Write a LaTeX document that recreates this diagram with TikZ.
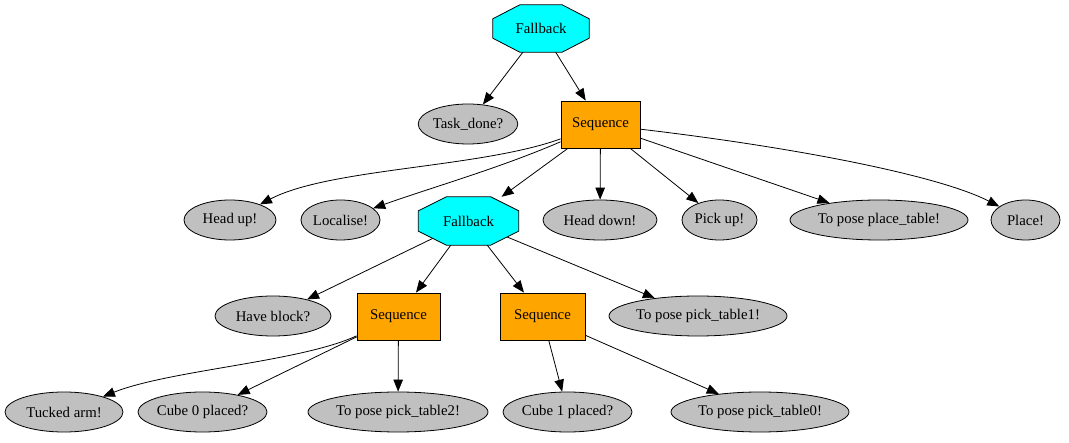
\documentclass[tikz,border=0pt]{standalone}
\usepackage{fontspec}
\setmainfont{Liberation Serif}
\usetikzlibrary{arrows.meta,calc,shapes.geometric}
\definecolor{gvcyan}{RGB}{0,255,255}
\definecolor{gvorange}{RGB}{255,165,0}
\definecolor{gvgray}{RGB}{192,192,192}
\begin{document}
\begin{tikzpicture}[x=1pt,y=-1pt,
  every node/.style={font=\fontsize{14.8}{17}\selectfont, inner sep=0pt},
  leaf/.style={ellipse, draw=black, line width=0.8pt, fill=gvgray, minimum height=40pt},
  seqbox/.style={rectangle, draw=black, line width=0.8pt, fill=gvorange, minimum height=47pt},
  octo/.style={rectangle, minimum height=47pt},
  edge/.style={line width=0.8pt, -{Triangle[length=12pt,width=9.5pt]}},
  octfill/.style={draw=black, line width=0.8pt, fill=gvcyan}
]
\useasboundingbox (0,0) rectangle (1069,443);
% nodes
\node[octo, minimum width=96pt] (fb1) at (541,28.5) {};
\node[seqbox, minimum width=79pt] (seq1) at (600.5,124.5) {Sequence};
\node[leaf, minimum width=88pt] (task) at (468,124) {Task\_done?};
\node[leaf, minimum width=92pt] (headup) at (230,220) {Head up!};
\node[leaf, minimum width=79pt] (loc) at (340.5,220) {Localise!};
\node[octo, minimum width=100pt, minimum height=48pt] (fb2) at (468.5,221) {};
\node[leaf, minimum width=114pt] (headdown) at (600,220) {Head down!};
\node[leaf, minimum width=75pt] (pickup) at (719.5,220) {Pick up!};
\node[leaf, minimum width=178pt] (placet) at (879,220) {To pose place\_table!};
\node[leaf, minimum width=69pt] (place) at (1025.5,220) {Place!};
\node[leaf, minimum width=116pt] (have) at (273,316) {Have block?};
\node[seqbox, minimum width=83pt] (seqL) at (398.5,316.5) {Sequence};
\node[seqbox, minimum width=85pt] (seqR) at (542.5,316.5) {Sequence};
\node[leaf, minimum width=178pt] (pt1) at (698,316) {To pose pick\_table1!};
\node[leaf, minimum width=118pt] (tucked) at (64,412) {Tucked arm!};
\node[leaf, minimum width=113pt] (cube0) at (202.5,412) {Cube 0 placed?};
\node[leaf, minimum width=180pt] (pt2) at (398,412) {To pose pick\_table2!};
\node[leaf, minimum width=117pt] (cube1) at (567.5,412) {Cube 1 placed?};
\node[leaf, minimum width=178pt] (pt0) at (760,412) {To pose pick\_table0!};
% edges
\draw[edge] (fb1.center) -- (task);
\draw[edge] (fb1.center) -- (seq1);
\draw[edge] (seq1) .. controls (480,168) and (330,168) .. (headup);
\draw[edge] (seq1) .. controls (500,168) and (430,188) .. (loc);
\draw[edge] (seq1) -- (fb2);
\draw[edge] (seq1) -- (headdown);
\draw[edge] (seq1) -- (pickup);
\draw[edge] (seq1) -- (placet);
\draw[edge] (seq1) .. controls (800,148) and (940,176) .. (place);
\draw[edge] (fb2.center) -- (have);
\draw[edge] (fb2.center) -- (seqL);
\draw[edge] (fb2.center) -- (seqR);
\draw[edge] (fb2.center) -- (pt1);
\draw[edge] (seqL) .. controls (300,362) and (170,370) .. (tucked);
\draw[edge] (seqL) -- (cube0);
\draw[edge] (seqL) -- (pt2);
\draw[edge] (seqR) -- (cube1);
\draw[edge] (seqR) -- (pt0);
% octagons on top
\draw[octfill] ($(fb1.north west)+(27,0)$) -- ($(fb1.north east)+(-27,0)$) -- ($(fb1.north east)+(0,14)$) -- ($(fb1.south east)+(0,-14)$) -- ($(fb1.south east)+(-27,0)$) -- ($(fb1.south west)+(27,0)$) -- ($(fb1.south west)+(0,-14)$) -- ($(fb1.north west)+(0,14)$) -- cycle;
\node at (fb1) {Fallback};
\draw[octfill] ($(fb2.north west)+(28,0)$) -- ($(fb2.north east)+(-28,0)$) -- ($(fb2.north east)+(0,14)$) -- ($(fb2.south east)+(0,-14)$) -- ($(fb2.south east)+(-28,0)$) -- ($(fb2.south west)+(28,0)$) -- ($(fb2.south west)+(0,-14)$) -- ($(fb2.north west)+(0,14)$) -- cycle;
\node at (fb2) {Fallback};
\end{tikzpicture}
\end{document}
